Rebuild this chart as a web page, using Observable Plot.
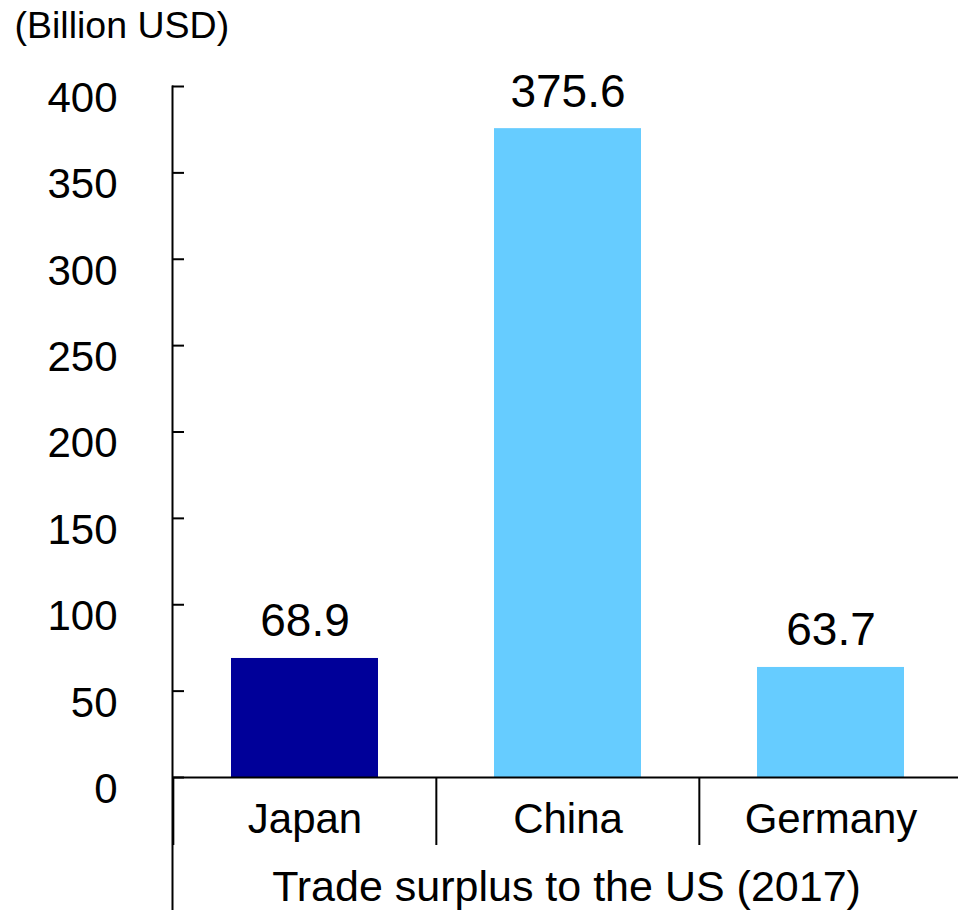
<!DOCTYPE html>
<html><head><meta charset="utf-8">
<script src="https://cdn.jsdelivr.net/npm/d3@7"></script>
<script src="https://cdn.jsdelivr.net/npm/@observablehq/plot@0.6"></script>
<style>html,body{margin:0;padding:0;background:#fff} svg{display:block}</style>
</head><body><div id="chart"></div>
<script>
const countries = ["Japan", "China", "Germany"];
const values = [68.9, 375.6, 63.7];
const barColors = ["#000099", "#66CCFF", "#66CCFF"];
const yTicks = [0, 50, 100, 150, 200, 250, 300, 350, 400];
const yAxisTitle = "(Billion USD)";
const xAxisTitle = "Trade surplus to the US (2017)";

const data = countries.map((c, i) => ({country: c, value: values[i], color: barColors[i]}));

const W = 958, H = 910, mL = 172, mT = 86, mB = 133;
const xRange = [172, 962];
const step = (xRange[1] - xRange[0]) / countries.length;
const font = "'Liberation Sans', Arial, Helvetica, sans-serif";

const chart = Plot.plot({
  width: W, height: H,
  marginLeft: mL, marginRight: 0, marginTop: mT, marginBottom: mB,
  style: {fontFamily: font, color: "#000", background: "#fff", overflow: "visible"},
  x: {domain: countries, range: xRange, paddingInner: 0.442, paddingOuter: 0.221},
  y: {domain: [0, 400]},
  color: {type: "identity"},
  marks: [
    Plot.barY(data, {x: "country", y: "value", fill: "color"}),
    Plot.text(data, {x: "country", y: "value", text: d => d.value.toFixed(1), lineAnchor: "bottom", dy: -22, fontSize: 46, fill: "#000"}),
    Plot.ruleY([0], {stroke: "#000", strokeWidth: 2}),
    Plot.frame({anchor: "left", stroke: "#000", strokeWidth: 2, insetBottom: -mB}),
    Plot.axisY(yTicks, {tickSize: -12, text: null, stroke: "#000", strokeWidth: 2, label: null}),
    Plot.axisY(yTicks, {tickSize: 0, tickPadding: 55, dy: 12, fontSize: 42, fill: "#000", label: null}),
    Plot.axisX({tickSize: 68, text: null, dx: -step / 2, stroke: "#000", strokeWidth: 2, label: null}),
    Plot.axisX({tickSize: 0, tickPadding: 26, fontSize: 42, fill: "#000", label: null}),
    Plot.text([yAxisTitle], {frameAnchor: "top-left", textAnchor: "start", lineAnchor: "bottom", dx: -158, dy: -49, fontSize: 37.5, fill: "#000"}),
    Plot.text([xAxisTitle], {frameAnchor: "bottom", lineAnchor: "bottom", dy: 123, dx: 1, fontSize: 43, fill: "#000"})
  ]
});
document.getElementById("chart").append(chart);
</script>
</body></html>
